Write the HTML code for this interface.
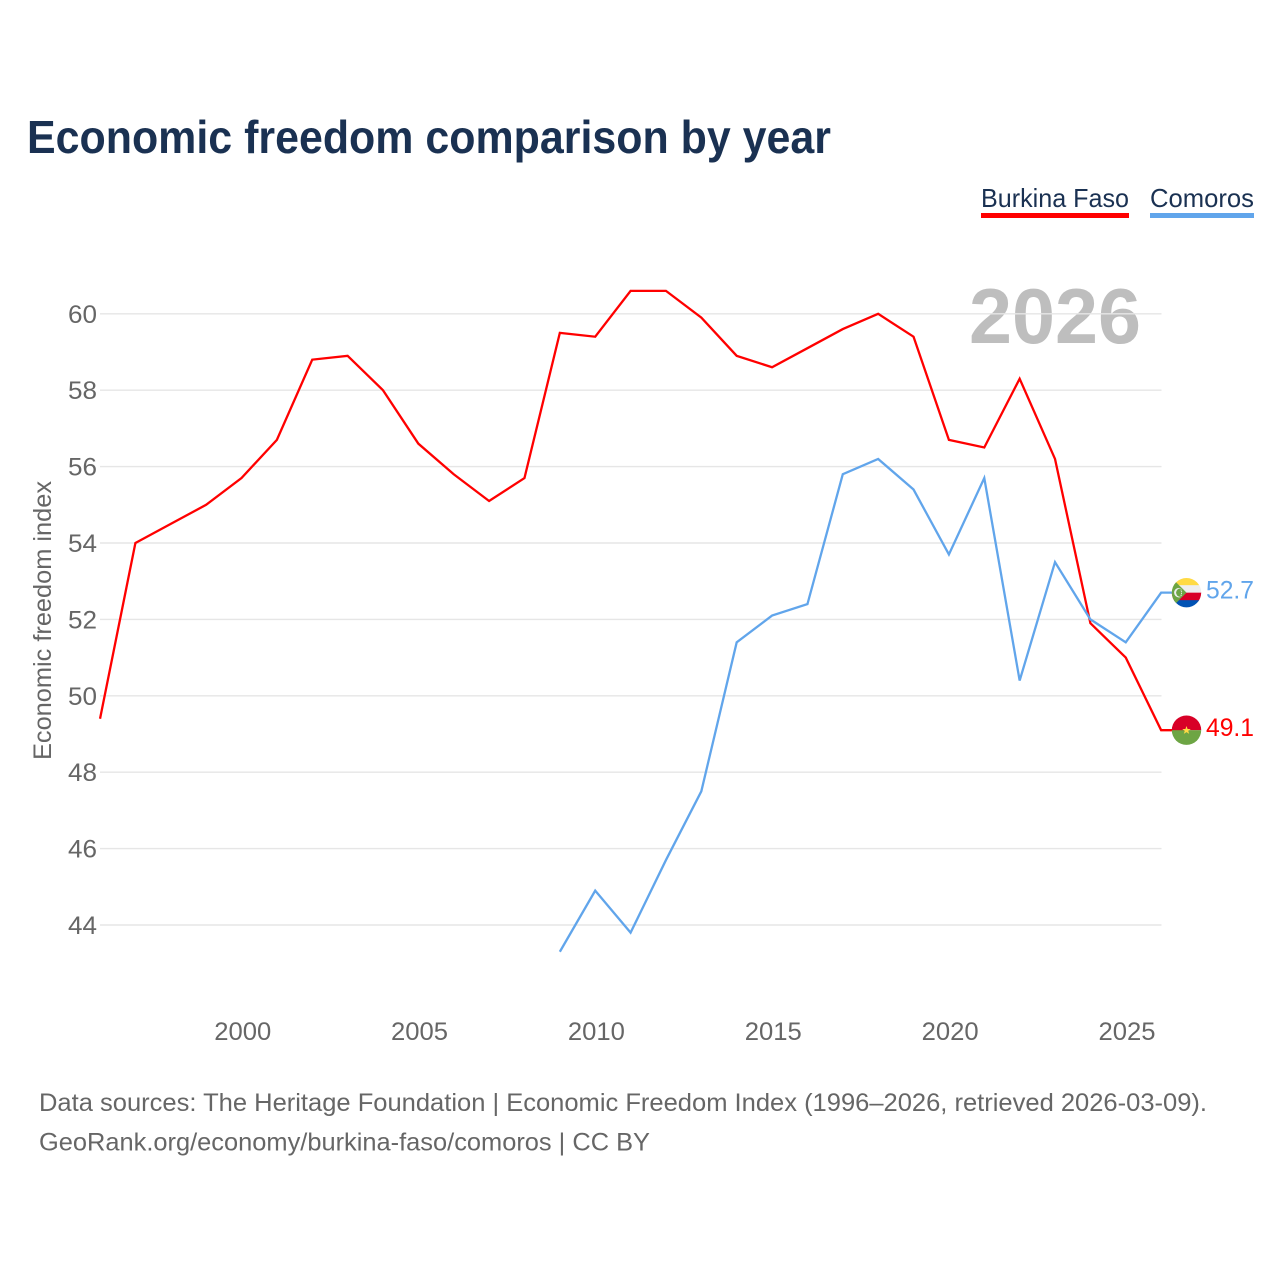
<!DOCTYPE html>
<html lang="en">
<head>
<meta charset="utf-8">
<title>Economic freedom comparison by year</title>
<style>
html,body{margin:0;padding:0;background:#fff;}
svg{display:block;font-family:"Liberation Sans",sans-serif;}
</style>
</head>
<body>
<svg id="chart" xmlns="http://www.w3.org/2000/svg" width="1280" height="1280" viewBox="0 0 1280 1280">
  <defs>
    <clipPath id="flag-clip"><circle cx="0" cy="0" r="14.7"/></clipPath>
  </defs>
  <rect x="0" y="0" width="1280" height="1280" fill="#ffffff"/>
  <text x="27" y="153" font-size="46" font-weight="700" fill="#1a3152" textLength="804" lengthAdjust="spacingAndGlyphs">Economic freedom comparison by year</text>
  <text x="981" y="207" font-size="26" fill="#1a3152" textLength="148" lengthAdjust="spacingAndGlyphs">Burkina Faso</text>
  <rect x="981" y="213" width="148" height="5" fill="#ff0000"/>
  <text x="1150" y="207" font-size="26" fill="#1a3152" textLength="104" lengthAdjust="spacingAndGlyphs">Comoros</text>
  <rect x="1150" y="213" width="104" height="5" fill="#61a5eb"/>
  <text x="969" y="343" font-size="78" font-weight="700" fill="#bebebe" textLength="172" lengthAdjust="spacingAndGlyphs">2026</text>
  <g id="grid"></g>
  <g id="y-ticks"></g>
  <g id="x-ticks"></g>
  <text transform="translate(51,620.5) rotate(-90)" text-anchor="middle" font-size="25" fill="#666666" textLength="279" lengthAdjust="spacingAndGlyphs">Economic freedom index</text>
  <g id="series"></g>
  <g id="flag-comoros" clip-path="url(#flag-clip)">
    <rect x="-15" y="-15" width="30" height="8" fill="#ffda44"/>
    <rect x="-15" y="-7.5" width="30" height="8" fill="#eeeeee"/>
    <rect x="-15" y="0" width="30" height="8" fill="#d80027"/>
    <rect x="-15" y="7.5" width="30" height="8" fill="#0052b4"/>
    <polygon points="-15,-15 0,0 -15,15" fill="#6da544"/>
    <circle cx="-7.6" cy="0" r="4.8" fill="#eeeeee"/>
    <circle cx="-6.2" cy="0" r="4.2" fill="#6da544"/>
    <circle cx="-5.4" cy="-2.6" r="0.6" fill="#eeeeee"/>
    <circle cx="-5" cy="-0.9" r="0.6" fill="#eeeeee"/>
    <circle cx="-5" cy="0.9" r="0.6" fill="#eeeeee"/>
    <circle cx="-5.4" cy="2.6" r="0.6" fill="#eeeeee"/>
  </g>
  <g id="flag-burkina" clip-path="url(#flag-clip)">
    <rect x="-15" y="-15" width="30" height="15" fill="#d80027"/>
    <rect x="-15" y="0" width="30" height="15" fill="#6da544"/>
    <polygon points="0,-4.2 1.1,-1.2 4.3,-1.2 1.7,0.7 2.7,3.7 0,1.9 -2.7,3.7 -1.7,0.7 -4.3,-1.2 -1.1,-1.2" fill="#ffda44"/>
  </g>
  <text id="value-comoros" x="1206" font-size="25" fill="#61a5eb" textLength="48" lengthAdjust="spacingAndGlyphs"></text>
  <text id="value-burkina" x="1206" font-size="25" fill="#ff0000" textLength="48" lengthAdjust="spacingAndGlyphs"></text>
  <text x="39" y="1111" font-size="25" fill="#666666" textLength="1168" lengthAdjust="spacingAndGlyphs">Data sources: The Heritage Foundation | Economic Freedom Index (1996–2026, retrieved 2026-03-09).</text>
  <text x="39" y="1150.5" font-size="25" fill="#666666" textLength="611" lengthAdjust="spacingAndGlyphs">GeoRank.org/economy/burkina-faso/comoros | CC BY</text>
</svg>
<script>
const burkinaYears = [1996,1997,1998,1999,2000,2001,2002,2003,2004,2005,2006,2007,2008,2009,2010,2011,2012,2013,2014,2015,2016,2017,2018,2019,2020,2021,2022,2023,2024,2025,2026];
const burkinaValues = [49.4,54.0,54.5,55.0,55.7,56.7,58.8,58.9,58.0,56.6,55.8,55.1,55.7,59.5,59.4,60.6,60.6,59.9,58.9,58.6,59.1,59.6,60.0,59.4,56.7,56.5,58.3,56.2,51.9,51.0,49.1];
const comorosYears = [2009,2010,2011,2012,2013,2014,2015,2016,2017,2018,2019,2020,2021,2022,2023,2024,2025,2026];
const comorosValues = [43.3,44.9,43.8,45.7,47.5,51.4,52.1,52.4,55.8,56.2,55.4,53.7,55.7,50.4,53.5,52.0,51.4,52.7];
const yTickValues = [44,46,48,50,52,54,56,58,60];
const xTickValues = [2000,2005,2010,2015,2020,2025];

const NS = 'http://www.w3.org/2000/svg';
const xScale = function (year) { return 135.4 + (year - 1997) * 35.37; };
const yScale = function (value) { return 925 - (value - 44) * 38.2; };
const PLOT_LEFT = 100;
const PLOT_RIGHT = 1161.5;
const FLAG_X = 1186.5;

function make(tag, parent) {
  const el = document.createElementNS(NS, tag);
  parent.appendChild(el);
  return el;
}

const gridGroup = document.getElementById('grid');
const yTickGroup = document.getElementById('y-ticks');
yTickValues.forEach(function (v) {
  const line = make('line', gridGroup);
  
  
  line.setAttribute('x1', PLOT_LEFT);
  line.setAttribute('x2', PLOT_RIGHT);
  line.setAttribute('y1', yScale(v));
  line.setAttribute('y2', yScale(v));
  line.setAttribute('stroke', '#e6e6e6');
  line.setAttribute('stroke-width', '1.4');
  const label = make('text', yTickGroup);
  
  
  label.setAttribute('x', 97);
  label.setAttribute('y', yScale(v) + 9);
  label.setAttribute('text-anchor', 'end');
  label.setAttribute('font-size', '25');
  label.setAttribute('fill', '#666666');
  label.setAttribute('textLength', '29');
  label.setAttribute('lengthAdjust', 'spacingAndGlyphs');
  label.textContent = String(v);
});

const xTickGroup = document.getElementById('x-ticks');
xTickValues.forEach(function (year) {
  const label = make('text', xTickGroup);
  
  
  label.setAttribute('x', xScale(year) + 1.2);
  label.setAttribute('y', 1040);
  label.setAttribute('text-anchor', 'middle');
  label.setAttribute('font-size', '25');
  label.setAttribute('fill', '#666666');
  label.setAttribute('textLength', '57');
  label.setAttribute('lengthAdjust', 'spacingAndGlyphs');
  label.textContent = String(year);
});

function drawSeries(name, years, values, color) {
  const group = document.getElementById('series');
  const pts = years.map(function (yr, i) {
    return xScale(yr).toFixed(2) + ',' + yScale(values[i]).toFixed(2);
  });
  const last = values[values.length - 1];
  pts.push(FLAG_X + ',' + yScale(last).toFixed(2));
  const line = make('polyline', group);
  
  
  line.setAttribute('points', pts.join(' '));
  line.setAttribute('fill', 'none');
  line.setAttribute('stroke', color);
  line.setAttribute('stroke-width', '2.3');
  line.setAttribute('stroke-linejoin', 'miter');
}

drawSeries('burkina-faso', burkinaYears, burkinaValues, '#ff0000');
drawSeries('comoros', comorosYears, comorosValues, '#61a5eb');

function placeEnd(flagId, valueId, values) {
  const last = values[values.length - 1];
  const y = yScale(last);
  document.getElementById(flagId).setAttribute('transform', 'translate(' + FLAG_X + ',' + y + ')');
  const label = document.getElementById(valueId);
  label.setAttribute('y', y + 6);
  label.textContent = last.toFixed(1);
}
placeEnd('flag-burkina', 'value-burkina', burkinaValues);
placeEnd('flag-comoros', 'value-comoros', comorosValues);
</script>
</body>
</html>
